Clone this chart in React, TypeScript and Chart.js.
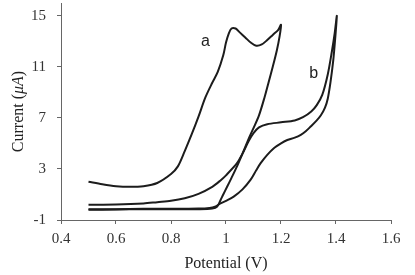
import React, { useEffect, useRef } from "react";
import { Chart, registerables } from "chart.js";

Chart.register(...registerables);

const xTicks = [0.4, 0.6, 0.8, 1.0, 1.2, 1.4, 1.6];
const yTicks = [-1, 3, 7, 11, 15];

// curve a: forward (upper) branch
const aForwardV = [0.5, 0.55, 0.6, 0.65, 0.7, 0.75, 0.8, 0.825, 0.85, 0.875, 0.9, 0.925, 0.95, 0.97, 0.99, 1.0, 1.01, 1.02, 1.035, 1.05, 1.07, 1.09, 1.11, 1.13, 1.15, 1.17, 1.19, 1.2];
const aForwardI = [2.0, 1.8, 1.65, 1.6, 1.65, 1.9, 2.6, 3.2, 4.4, 5.7, 7.1, 8.6, 9.75, 10.6, 11.9, 12.9, 13.6, 14.0, 14.0, 13.7, 13.3, 12.9, 12.65, 12.75, 13.1, 13.5, 13.9, 14.3];
// curve a: return branch
const aReturnV = [1.195, 1.185, 1.17, 1.155, 1.14, 1.12, 1.1, 1.083, 1.06, 1.04, 1.02, 1.004, 0.99, 0.98, 0.968, 0.95, 0.9, 0.8, 0.7, 0.6, 0.5];
const aReturnI = [13.4, 12.3, 11.0, 9.8, 8.6, 7.2, 6.2, 5.4, 4.2, 3.2, 2.3, 1.6, 1.0, 0.55, 0.05, -0.1, -0.15, -0.15, -0.15, -0.18, -0.2];

// curve b: upper branch
const bUpperV = [0.5, 0.6, 0.7, 0.75, 0.8, 0.85, 0.9, 0.95, 0.98, 1.0, 1.04, 1.06, 1.083, 1.1, 1.12, 1.15, 1.2, 1.25, 1.28, 1.31, 1.33, 1.35, 1.37, 1.385, 1.395, 1.403];
const bUpperI = [0.2, 0.22, 0.3, 0.4, 0.5, 0.7, 1.05, 1.6, 2.1, 2.5, 3.45, 4.2, 5.2, 5.8, 6.25, 6.5, 6.65, 6.8, 7.05, 7.5, 8.0, 8.8, 10.4, 12.2, 13.6, 15.0];
// curve b: lower branch
const bLowerV = [1.397, 1.39, 1.38, 1.37, 1.36, 1.345, 1.33, 1.308, 1.29, 1.272, 1.25, 1.223, 1.2, 1.174, 1.15, 1.126, 1.11, 1.089, 1.06, 1.028, 1.0, 0.98, 0.96, 0.94, 0.9, 0.8, 0.7, 0.6, 0.5];
const bLowerI = [13.2, 11.5, 9.8, 8.5, 7.8, 7.2, 6.8, 6.32, 5.95, 5.67, 5.45, 5.27, 5.0, 4.62, 4.1, 3.45, 2.9, 2.14, 1.4, 0.83, 0.5, 0.3, 0.05, -0.05, -0.1, -0.12, -0.12, -0.15, -0.15];

const curveLabels = ["a", "b"];
const labelV = [0.925, 1.319];
const labelI = [12.96, 10.45];

const toPts = (vs: number[], is: number[]) => vs.map((v, k) => ({ x: v, y: is[k] }));

const SERIF = '"Liberation Serif", "Times New Roman", serif';
const SANS = '"Liberation Sans", Arial, sans-serif';

const annotate = {
  id: "annotate",
  afterDatasetsDraw(chart: any) {
    const { ctx, scales } = chart;
    ctx.save();
    ctx.fillStyle = "#222";
    ctx.font = `16px ${SANS}`;
    ctx.textAlign = "center";
    ctx.textBaseline = "middle";
    curveLabels.forEach((t, k) => {
      ctx.fillText(t, scales.x.getPixelForValue(labelV[k]), scales.y.getPixelForValue(labelI[k]));
    });
    ctx.restore();
  },
  afterDraw(chart: any) {
    const { ctx, chartArea } = chart;
    ctx.save();
    const cy = (chartArea.top + chartArea.bottom) / 2;
    ctx.translate(18.5, cy);
    ctx.rotate(-Math.PI / 2);
    ctx.fillStyle = "#222";
    ctx.textBaseline = "middle";
    ctx.textAlign = "left";
    const parts = [
      { t: "Current (", f: `16px ${SERIF}` },
      { t: "\u03BCA", f: `italic 16px ${SERIF}` },
      { t: ")", f: `16px ${SERIF}` },
    ];
    let total = 0;
    parts.forEach((p) => {
      ctx.font = p.f;
      total += ctx.measureText(p.t).width;
    });
    let x = -total / 2;
    parts.forEach((p) => {
      ctx.font = p.f;
      ctx.fillText(p.t, x, 0);
      x += ctx.measureText(p.t).width;
    });
    ctx.restore();
  },
};

export default function App() {
  const ref = useRef<HTMLCanvasElement | null>(null);
  useEffect(() => {
    if (!ref.current) return;
    const lineStyle = {
      showLine: true,
      borderColor: "#1c1c1c",
      backgroundColor: "#1c1c1c",
      borderWidth: 2,
      pointRadius: 0,
      tension: 0.3,
      fill: false,
    };
    const chart = new Chart(ref.current, {
      type: "scatter",
      data: {
        datasets: [
          { ...lineStyle, label: "a", data: [...toPts(aForwardV, aForwardI), ...toPts(aReturnV, aReturnI)] },
          { ...lineStyle, label: "b", data: [...toPts(bUpperV, bUpperI), ...toPts(bLowerV, bLowerI)] },
        ],
      },
      options: {
        animation: false,
        responsive: false,
        maintainAspectRatio: false,
        layout: { padding: { top: 3, right: 24, bottom: 0, left: 0 } },
        plugins: { legend: { display: false }, tooltip: { enabled: false } },
        scales: {
          x: {
            type: "linear",
            min: 0.4,
            max: 1.6,
            afterBuildTicks: (s: any) => {
              s.ticks = xTicks.map((v) => ({ value: v }));
            },
            afterFit: (s: any) => {
              s.height = 55;
              s.paddingLeft = 0;
              s.paddingRight = 0;
            },
            ticks: {
              color: "#333",
              font: { family: SERIF, size: 15 },
              padding: 6,
              callback: (v: any) => String(Math.round(Number(v) * 10) / 10),
            },
            grid: { drawOnChartArea: false, tickLength: 4, color: "#666", tickColor: "#666" },
            border: { color: "#666" },
            title: {
              display: true,
              text: "Potential (V)",
              color: "#222",
              font: { family: SERIF, size: 16 },
              padding: { top: 0, bottom: 2 },
            },
          },
          y: {
            type: "linear",
            min: -1,
            max: 16,
            afterBuildTicks: (s: any) => {
              s.ticks = yTicks.map((v) => ({ value: v }));
            },
            afterFit: (s: any) => {
              s.width = 61;
              s.paddingTop = 0;
              s.paddingBottom = 0;
            },
            ticks: {
              color: "#333",
              font: { family: SERIF, size: 15 },
              padding: 11,
            },
            grid: { drawOnChartArea: false, tickLength: 4, color: "#666", tickColor: "#666" },
            border: { color: "#666" },
            title: { display: false },
          },
        },
      },
      plugins: [annotate],
    });
    return () => chart.destroy();
  }, []);
  return (
    <div style={{ position: "fixed", left: 0, top: 0, width: 415, height: 275, background: "#fff" }}>
      <canvas ref={ref} width={415} height={275} />
    </div>
  );
}
